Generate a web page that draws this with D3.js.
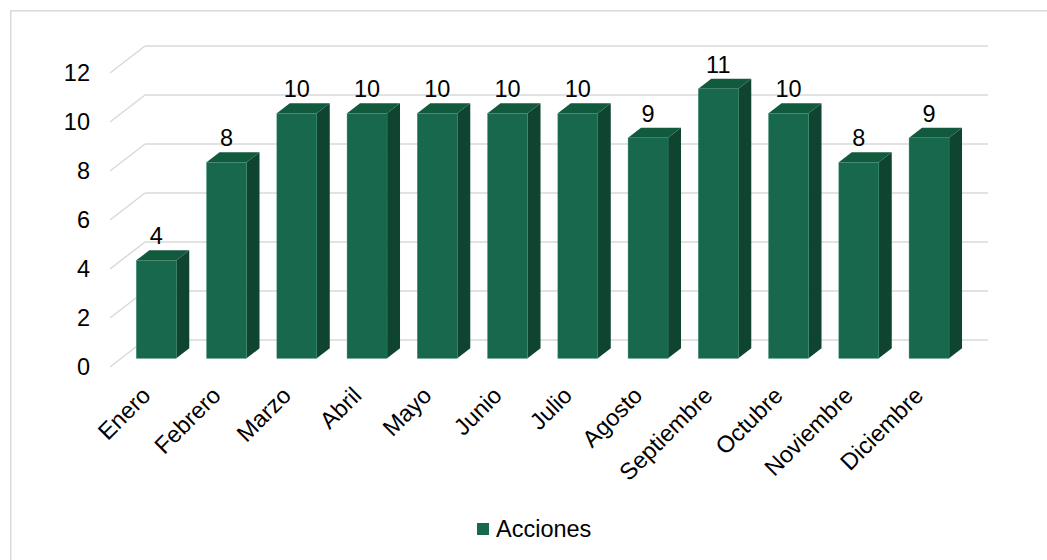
<!DOCTYPE html>
<html>
<head>
<meta charset="utf-8">
<script src="https://cdn.jsdelivr.net/npm/d3@7"></script>
<style>
  html, body { margin: 0; padding: 0; background: #fff; }
  svg { display: block; font-family: "Liberation Sans", Arial, sans-serif; }
</style>
</head>
<body>
<svg id="chart" width="1047" height="560"></svg>
<script>
// Monthly actions
const months = ["Enero", "Febrero", "Marzo", "Abril", "Mayo", "Junio", "Julio",
                "Agosto", "Septiembre", "Octubre", "Noviembre", "Diciembre"];
const acciones = [4, 8, 10, 10, 10, 10, 10, 9, 11, 10, 8, 9];
const yTicks = [0, 2, 4, 6, 8, 10, 12];
const seriesName = "Acciones";

const fontSize = 23.5;
const svg = d3.select("#chart");

// Outer chart frame
svg.append("rect")
  .attr("x", 10.75).attr("y", 10.75)
  .attr("width", 1100).attr("height", 600)
  .attr("fill", "none").attr("stroke", "#d9d9d9").attr("stroke-width", 1.5);

// Back wall plane and oblique depth vector (back -> front)
const x = d3.scaleBand().domain(months).range([145, 988]).paddingInner(0).paddingOuter(0);
const y = d3.scaleLinear().domain([0, 12]).range([340, 46]);
const depth = { dx: -35, dy: 27 };
const proj = (px, v, t) => [px + depth.dx * t, y(v) + depth.dy * t];

const tFront = 0.68, tBack = 0.31;
const halfW = 20;

const colors = { front: "#17684c", side: "#0f4530", top: "#125a3e", edge: "#2f8a68" };

// Gridlines: side-wall diagonal + back-wall horizontal
const grid = svg.append("g");
yTicks.forEach(v => {
  const [bx, by] = proj(x.range()[0], v, 0);
  const [fx, fy] = proj(x.range()[0], v, 1);
  grid.append("line")
    .attr("x1", fx).attr("y1", fy).attr("x2", bx).attr("y2", by)
    .attr("stroke", "#d9d9d9").attr("stroke-width", 1.5);
  grid.append("line")
    .attr("x1", bx).attr("y1", by).attr("x2", x.range()[1]).attr("y2", by)
    .attr("stroke", "#d9d9d9").attr("stroke-width", 1.5);
});

// Y axis labels at the front edge of the side wall
svg.append("g").selectAll("text").data(yTicks).join("text")
  .attr("x", 90)
  .attr("y", d => proj(x.range()[0], d, 1)[1])
  .attr("dy", "0.36em")
  .attr("text-anchor", "end")
  .attr("font-size", fontSize)
  .attr("fill", "#000")
  .text(d => d);

// 3D columns
const bars = svg.append("g");
months.forEach((m, i) => {
  const v = acciones[i];
  const cx = x(m) + x.bandwidth() / 2;
  const fl = proj(cx - halfW, v, tFront), fr = proj(cx + halfW, v, tFront);
  const br = proj(cx + halfW, v, tBack), bl = proj(cx - halfW, v, tBack);
  const frb = proj(cx + halfW, 0, tFront), brb = proj(cx + halfW, 0, tBack);
  const flb = proj(cx - halfW, 0, tFront);

  const g = bars.append("g");
  // side face
  g.append("polygon")
    .attr("points", [fr, br, brb, frb].map(p => p.join(",")).join(" "))
    .attr("fill", colors.side);
  // top face
  g.append("polygon")
    .attr("points", [fl, fr, br, bl].map(p => p.join(",")).join(" "))
    .attr("fill", colors.top);
  // front face
  g.append("rect")
    .attr("x", fl[0]).attr("y", fl[1])
    .attr("width", fr[0] - fl[0]).attr("height", flb[1] - fl[1])
    .attr("fill", colors.front)
    .attr("stroke", colors.edge).attr("stroke-width", 0.6).attr("stroke-opacity", 0.6);

  // value label
  g.append("text")
    .attr("x", cx + depth.dx * tFront)
    .attr("y", y(v) + 2)
    .attr("text-anchor", "middle")
    .attr("font-size", fontSize)
    .attr("fill", "#000")
    .text(v);
});

// Category labels, rotated -45 degrees
svg.append("g").selectAll("text").data(months).join("text")
  .attr("transform", d => {
    const cx = x(d) + x.bandwidth() / 2 + depth.dx;
    return `translate(${cx - 5},${385}) rotate(-45)`;
  })
  .attr("dy", "0.72em")
  .attr("text-anchor", "end")
  .attr("font-size", fontSize)
  .attr("fill", "#000")
  .text(d => d);

// Legend
const legend = svg.append("g").attr("transform", "translate(477,523)");
legend.append("rect").attr("width", 12).attr("height", 12).attr("fill", colors.front);
legend.append("text")
  .attr("x", 19).attr("y", 13.5)
  .attr("font-size", fontSize)
  .attr("fill", "#000")
  .text(seriesName);
</script>
</body>
</html>
